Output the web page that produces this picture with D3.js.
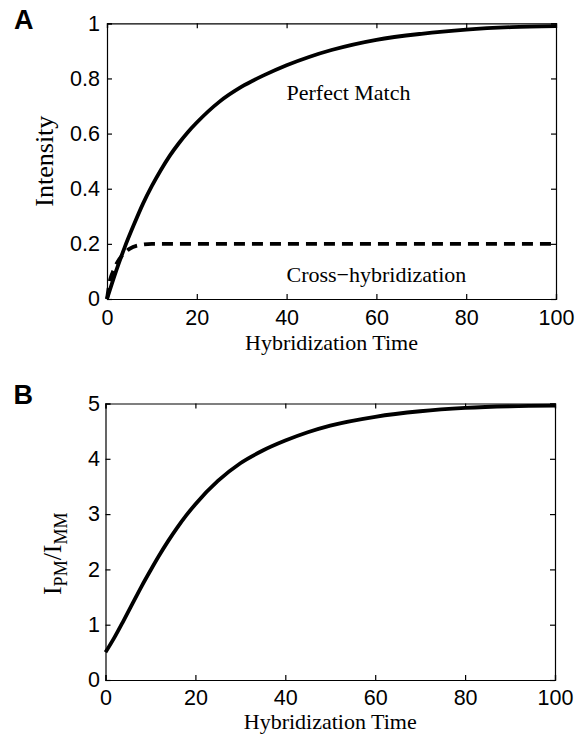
<!DOCTYPE html>
<html>
<head>
<meta charset="utf-8">
<script src="https://cdn.jsdelivr.net/npm/d3@7"></script>
<style>
  html, body { margin: 0; padding: 0; background: #fff; }
  svg { display: block; }
  .tick text { font-family: "Liberation Sans", Arial, Helvetica, sans-serif; font-size: 21.5px; fill: #000; }
  .serif { font-family: "Liberation Serif", "Times New Roman", Times, serif; font-size: 22px; fill: #000; }
  .ylab { font-family: "Liberation Serif", "Times New Roman", Times, serif; font-size: 26px; fill: #000; }
  .panel { font-family: "Liberation Sans", Arial, sans-serif; font-weight: bold; font-size: 27px; fill: #000; }
</style>
</head>
<body>
<script>
// Hybridization time samples and curve values
const timeA = [0, 2, 4, 6, 8, 10, 12, 14, 16, 18, 20, 25, 30, 35, 40, 45, 50, 60, 70, 80, 90, 100];
const perfectMatch = [0, 0.10, 0.19, 0.27, 0.345, 0.41, 0.468, 0.52, 0.565, 0.605, 0.64, 0.715, 0.77, 0.812, 0.848, 0.878, 0.903, 0.94, 0.962, 0.977, 0.986, 0.99];

const timeCross = [0, 0.7, 1.5, 2.2, 3.5, 5, 7, 10, 20, 40, 60, 80, 100];
const crossHyb = [0, 0.07, 0.105, 0.13, 0.16, 0.182, 0.195, 0.2, 0.2, 0.2, 0.2, 0.2, 0.2];

const timeB = [0, 2, 4, 6, 8, 10, 12, 14, 16, 18, 20, 25, 30, 35, 40, 45, 50, 60, 70, 80, 90, 100];
const ratioPMMM = [0.5, 0.77, 1.07, 1.38, 1.69, 1.98, 2.26, 2.52, 2.76, 2.98, 3.18, 3.6, 3.92, 4.15, 4.33, 4.48, 4.6, 4.76, 4.86, 4.92, 4.95, 4.96];

// Tick values and labels
const xTicks = [0, 20, 40, 60, 80, 100];
const xTickLabels = ["0", "20", "40", "60", "80", "100"];
const yTicksA = [0, 0.2, 0.4, 0.6, 0.8, 1];
const yTickLabelsA = ["0", "0.2", "0.4", "0.6", "0.8", "1"];
const yTicksB = [0, 1, 2, 3, 4, 5];
const yTickLabelsB = ["0", "1", "2", "3", "4", "5"];

const W = 583, H = 734;
const svg = d3.select("body").append("svg").attr("width", W).attr("height", H);

// Boxed axes with inward ticks on all four sides
function drawFrame(g, x, y, yTicks, yLabels, xPad, yPad) {
  const [x0, x1] = x.range();
  const [y0, y1] = y.range();
  const fmtX = (d) => xTickLabels[xTicks.indexOf(d)];
  const fmtY = (d) => yLabels[yTicks.indexOf(d)];

  g.append("g").attr("transform", `translate(0,${y0})`)
    .call(d3.axisBottom(x).tickValues(xTicks).tickFormat(fmtX).tickSize(-5).tickPadding(xPad));
  g.append("g").attr("transform", `translate(0,${y1})`)
    .call(d3.axisTop(x).tickValues(xTicks).tickFormat("").tickSize(-5));
  g.append("g").attr("transform", `translate(${x0},0)`)
    .call(d3.axisLeft(y).tickValues(yTicks).tickFormat(fmtY).tickSize(-5).tickPadding(yPad));
  g.append("g").attr("transform", `translate(${x1},0)`)
    .call(d3.axisRight(y).tickValues(yTicks).tickFormat("").tickSize(-5));

  g.selectAll(".domain").attr("stroke", "#000").attr("stroke-width", 1.2);
  g.selectAll(".tick line").attr("stroke", "#000").attr("stroke-width", 1.2);
}

const line = d3.line().curve(d3.curveMonotoneX);

// Panel A: intensity versus hybridization time
const xA = d3.scaleLinear().domain([0, 100]).range([107, 556]);
const yA = d3.scaleLinear().domain([0, 1]).range([299, 23.3]);
const gA = svg.append("g");
drawFrame(gA, xA, yA, yTicksA, yTickLabelsA, 10.5, 7);

gA.append("path")
  .attr("d", line(timeA.map((t, i) => [xA(t), yA(perfectMatch[i])])))
  .attr("fill", "none").attr("stroke", "#000").attr("stroke-width", 3.8).attr("stroke-linejoin", "round");
gA.append("path")
  .attr("d", line(timeCross.map((t, i) => [xA(t), yA(crossHyb[i])])))
  .attr("fill", "none").attr("stroke", "#000").attr("stroke-width", 3.8)
  .attr("stroke-dasharray", "11,7");

gA.append("text").attr("class", "serif").attr("x", 286.5).attr("y", 100).text("Perfect Match");
gA.append("text").attr("class", "serif").attr("x", 286.5).attr("y", 281.7).text("Cross\u2212hybridization");
gA.append("text").attr("class", "serif").attr("text-anchor", "middle")
  .attr("x", (xA.range()[0] + xA.range()[1]) / 2).attr("y", 350).text("Hybridization Time");
gA.append("text").attr("class", "ylab").attr("text-anchor", "middle")
  .attr("transform", `translate(53,${(yA.range()[0] + yA.range()[1]) / 2}) rotate(-90)`).text("Intensity");
gA.append("text").attr("class", "panel").attr("x", 14).attr("y", 29.3).text("A");

// Panel B: ratio of perfect match to mismatch intensity
const xB = d3.scaleLinear().domain([0, 100]).range([105.5, 555]);
const yB = d3.scaleLinear().domain([0, 5]).range([680, 403.5]);
const gB = svg.append("g");
drawFrame(gB, xB, yB, yTicksB, yTickLabelsB, 9.5, 5.5);

gB.append("path")
  .attr("d", line(timeB.map((t, i) => [xB(t), yB(ratioPMMM[i])])))
  .attr("fill", "none").attr("stroke", "#000").attr("stroke-width", 3.8).attr("stroke-linejoin", "round");

gB.append("text").attr("class", "serif").attr("text-anchor", "middle")
  .attr("x", (xB.range()[0] + xB.range()[1]) / 2).attr("y", 729).text("Hybridization Time");

const yLab = gB.append("text").attr("class", "ylab").attr("text-anchor", "middle")
  .attr("transform", `translate(61,${(yB.range()[0] + yB.range()[1]) / 2 + 12}) rotate(-90)`);
yLab.append("tspan").text("I");
yLab.append("tspan").attr("dy", 6).style("font-size", "18px").text("PM");
yLab.append("tspan").attr("dy", -6).text("/I");
yLab.append("tspan").attr("dy", 6).style("font-size", "18px").text("MM");

gB.append("text").attr("class", "panel").attr("x", 13.5).attr("y", 404).text("B");
</script>
</body>
</html>
